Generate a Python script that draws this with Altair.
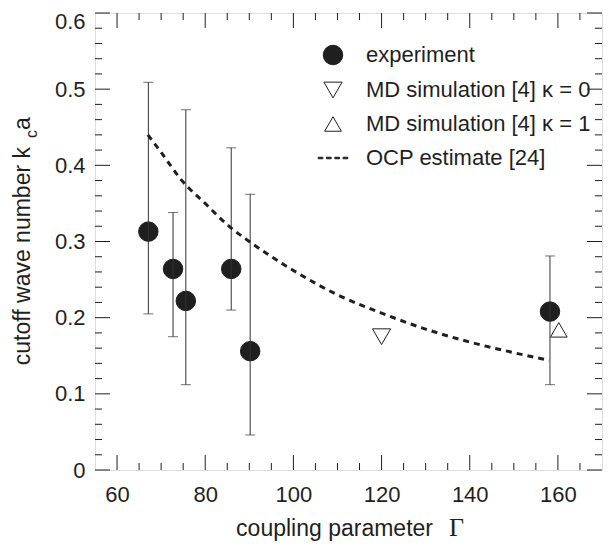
import altair as alt
import pandas as pd

# ---------------- data ----------------
exp_gamma = [67.1, 72.7, 75.6, 85.9, 90.2, 158.2]
exp_k = [0.313, 0.264, 0.222, 0.264, 0.156, 0.208]
exp_hi = [0.509, 0.338, 0.473, 0.423, 0.362, 0.281]
exp_lo = [0.205, 0.175, 0.112, 0.210, 0.046, 0.112]

md0_gamma = [120.0]
md0_k = [0.175]
md1_gamma = [160.2]
md1_k = [0.184]

ocp_gamma = [67, 70, 75, 80, 85, 90, 100, 110, 120, 130, 140, 150, 158]
ocp_k = [0.440, 0.417, 0.378, 0.350, 0.322, 0.300, 0.262, 0.230, 0.206,
         0.185, 0.168, 0.154, 0.144]

series_names = ["experiment", "MD simulation [4] κ = 0",
                "MD simulation [4] κ = 1", "OCP estimate [24]"]

x_major = [60, 80, 100, 120, 140, 160]
x_minor = [65, 70, 75, 85, 90, 95, 105, 110, 115, 125, 130, 135,
           145, 150, 155, 165]
y_major = [0, 0.1, 0.2, 0.3, 0.4, 0.5, 0.6]
y_minor = [0.02, 0.04, 0.06, 0.08, 0.12, 0.14, 0.16, 0.18, 0.22, 0.24,
           0.26, 0.28, 0.32, 0.34, 0.36, 0.38, 0.42, 0.44, 0.46, 0.48,
           0.52, 0.54, 0.56, 0.58]

x_title = ["coupling parameter"]
x_title_sym = ["Γ"]
y_title = ["cutoff wave number k"]
y_title_sub = ["c"]
y_title_end = ["a"]

# ---------------- layout / style ----------------
W, H = 507, 457
INK = "#1f1f1f"
FONT = "Liberation Sans"
FS = 22
TFS = 23
MAJ, MIN = 15, 7

xs = alt.Scale(domain=[55, 170], nice=False, zero=False)
ys = alt.Scale(domain=[0, 0.6], nice=False, zero=True)

dash_path = ("M-1.95,-0.1H-1.33V0.1H-1.95Z M-0.86,-0.1H-0.24V0.1H-0.86Z "
             "M0.24,-0.1H0.86V0.1H0.24Z M1.33,-0.1H1.95V0.1H1.33Z")

pts = pd.DataFrame({
    "series": [series_names[0]] * len(exp_gamma) + [series_names[1]] + [series_names[2]],
    "gamma": exp_gamma + md0_gamma + md1_gamma,
    "k": exp_k + md0_k + md1_k,
})
err = pd.DataFrame({"gamma": exp_gamma, "lo": exp_lo, "hi": exp_hi})
ocp = pd.DataFrame({"gamma": ocp_gamma, "k": ocp_k})

leg = alt.Legend(orient="none", legendX=227, legendY=31, title=None,
                 labelFontSize=FS, labelFont=FONT, labelColor=INK,
                 labelOffset=22, rowPadding=12, symbolStrokeWidth=1,
                 padding=0, labelLimit=400)

x_axis = alt.Axis(values=x_major, title=None, ticks=False, domain=False,
                  grid=False, labelFontSize=FS, labelFont=FONT,
                  labelColor=INK, labelPadding=14, format="d")
y_axis = alt.Axis(values=y_major, title=None, ticks=False, domain=False,
                  grid=False, labelFontSize=FS, labelFont=FONT,
                  labelColor=INK, labelPadding=10,
                  labelOffset={"condition": {"test": "datum.value > 0.55", "value": 8},
                               "value": 0},
                  labelExpr="datum.value == 0 ? '0' : format(datum.value, '.1f')")


def X(field):
    return alt.X(field, scale=xs, axis=x_axis)


def Y(field):
    return alt.Y(field, scale=ys, axis=y_axis)


# error bars
bars = alt.Chart(err).mark_rule(color="#333", strokeWidth=1).encode(
    x=X("gamma:Q"), y=Y("lo:Q"), y2="hi:Q",
)
cap_lo = alt.Chart(err).mark_tick(color="#333", orient="horizontal",
                                  size=10, thickness=1).encode(
    x=X("gamma:Q"), y=Y("lo:Q"),
)
cap_hi = alt.Chart(err).mark_tick(color="#333", orient="horizontal",
                                  size=10, thickness=1).encode(
    x=X("gamma:Q"), y=Y("hi:Q"),
)

# OCP curve
curve = alt.Chart(ocp).mark_line(color=INK, strokeWidth=3,
                                 strokeDash=[6, 5],
                                 interpolate="monotone").encode(
    x=X("gamma:Q"), y=Y("k:Q"),
)

# points with legend
points = alt.Chart(pts).mark_point(opacity=1, strokeWidth=1).encode(
    x=X("gamma:Q"),
    y=Y("k:Q"),
    shape=alt.Shape("series:N", scale=alt.Scale(
        domain=series_names,
        range=["circle", "triangle-down", "triangle-up", dash_path]), legend=leg),
    fill=alt.Fill("series:N", scale=alt.Scale(
        domain=series_names, range=[INK, "white", "white", INK]), legend=leg),
    stroke=alt.Stroke("series:N", scale=alt.Scale(
        domain=series_names, range=[INK, INK, INK, INK]), legend=leg),
    size=alt.Size("series:N", scale=alt.Scale(
        domain=series_names, range=[380, 230, 230, 400]), legend=leg),
)


def ticks_x(vals, length):
    d = pd.DataFrame({"v": vals})
    bottom = alt.Chart(d).mark_rule(color=INK, strokeWidth=1).encode(
        x=X("v:Q"), y=alt.value(H), y2=alt.value(H - length))
    top = alt.Chart(d).mark_rule(color=INK, strokeWidth=1).encode(
        x=X("v:Q"), y=alt.value(0), y2=alt.value(length))
    return [bottom, top]


def ticks_y(vals, length):
    d = pd.DataFrame({"v": vals})
    left = alt.Chart(d).mark_rule(color=INK, strokeWidth=1).encode(
        y=Y("v:Q"), x=alt.value(0), x2=alt.value(length))
    right = alt.Chart(d).mark_rule(color=INK, strokeWidth=1).encode(
        y=Y("v:Q"), x=alt.value(W), x2=alt.value(W - length))
    return [left, right]


tick_layers = (ticks_x(x_major, MAJ) + ticks_x(x_minor, MIN)
               + ticks_y(y_major, MAJ) + ticks_y(y_minor, MIN))

# axis titles as text
xt = alt.Chart(pd.DataFrame({"t": x_title})).mark_text(
    font=FONT, fontSize=TFS, color=INK, align="right", baseline="alphabetic"
).encode(text="t:N", x=alt.value(338), y=alt.value(523))
xg = alt.Chart(pd.DataFrame({"t": x_title_sym})).mark_text(
    font="Liberation Serif", fontSize=26, color=INK, align="left",
    baseline="alphabetic"
).encode(text="t:N", x=alt.value(354), y=alt.value(523))

yt = alt.Chart(pd.DataFrame({"t": y_title})).mark_text(
    font=FONT, fontSize=TFS, color=INK, align="right", baseline="alphabetic",
    angle=270
).encode(text="t:N", x=alt.value(-65), y=alt.value(134))
ysub = alt.Chart(pd.DataFrame({"t": y_title_sub})).mark_text(
    font=FONT, fontSize=16, color=INK, align="left", baseline="alphabetic",
    angle=270
).encode(text="t:N", x=alt.value(-58), y=alt.value(125))
yend = alt.Chart(pd.DataFrame({"t": y_title_end})).mark_text(
    font=FONT, fontSize=TFS, color=INK, align="left", baseline="alphabetic",
    angle=270
).encode(text="t:N", x=alt.value(-65), y=alt.value(117))

chart = alt.layer(
    points, *tick_layers, bars, cap_lo, cap_hi, curve, xt, xg, yt, ysub, yend
).properties(
    width=W, height=H,
    autosize=alt.AutoSizeParams(type="none"),
    padding={"left": 87, "top": 5, "right": 6, "bottom": 72},
).configure_view(
    stroke=INK, strokeWidth=1
).configure(
    background="white"
)

chart.save("out.html", embed_options={"renderer": "svg", "actions": False})
